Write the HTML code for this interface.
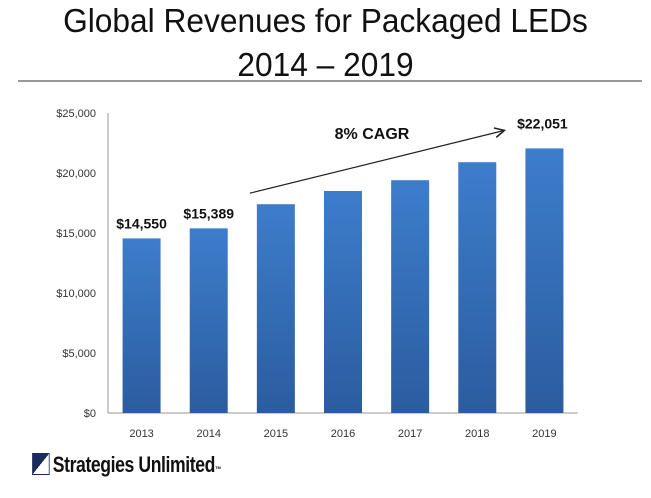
<!DOCTYPE html>
<html><head><meta charset="utf-8"><style>
body{margin:0;width:651px;height:498px;background:#fff;font-family:"Liberation Sans",sans-serif;overflow:hidden;position:relative}
.t{position:absolute;left:0;width:651px;text-align:center;font-size:33px;color:#111;transform:scaleX(0.96)}
</style></head><body>
<div class="t" style="top:2px">Global Revenues for Packaged LEDs</div>
<div class="t" style="top:46px">2014 – 2019</div>
<div style="position:absolute;left:18px;top:80px;width:624px;height:2px;background:#999"></div>
<svg id="c" width="651" height="498" style="position:absolute;left:0;top:0">
<defs><linearGradient id="g" x1="0" y1="0" x2="0" y2="1"><stop offset="0" stop-color="#3d7dcc"/><stop offset="1" stop-color="#2b5c9f"/></linearGradient>
<marker id="ah" markerWidth="10" markerHeight="10" refX="9" refY="5" orient="auto"><path d="M1,1 L9,5 L1,9" fill="none" stroke="#222" stroke-width="1.3"/></marker></defs>
</svg>
<div style="position:absolute;left:32px;top:452px;font-size:22px;font-weight:bold;color:#111;transform:scaleX(0.8);transform-origin:left;letter-spacing:-0.5px"><span style="display:inline-block;width:20px;height:20px;background:linear-gradient(135deg,#1a2c5c 50%,#fff 50%);border:1px solid #1a2c5c;vertical-align:-3px;margin-right:4px"></span>Strategies Unlimited<span style="font-size:8px">™</span></div>
<script>
const categories=["2013","2014","2015","2016","2017","2018","2019"];
const values=[14550,15389,17400,18500,19400,20900,22051];
const labels=["$14,550","$15,389","","","","","$22,051"];
const ticks=[0,5000,10000,15000,20000,25000];
const tickLabels=["$0","$5,000","$10,000","$15,000","$20,000","$25,000"];
const svg=document.getElementById('c');const NS="http://www.w3.org/2000/svg";
const y0=413,y1=113,vmax=25000,x0=108,x1=578;
const y=v=>y0-(v/vmax)*(y0-y1);
const x=i=>x0+(x1-x0)*(i+0.5)/categories.length;
function mk(t,a,txt){const e=document.createElementNS(NS,t);for(const k in a)e.setAttribute(k,a[k]);if(txt!==undefined)e.textContent=txt;svg.appendChild(e);return e;}
let e=mk('line',{x1:x0,y1:y1,x2:x0,y2:y0,stroke:'#999'});

e=mk('line',{x1:x0,y1:y0,x2:x1,y2:y0,stroke:'#999'});

ticks.forEach((t,i)=>{const el=mk('text',{x:96,y:y(t)+4,'text-anchor':'end','font-size':11,fill:'#333'},tickLabels[i]);
});
categories.forEach((c,i)=>{
const b=mk('rect',{x:x(i)-19,y:y(values[i]),width:38,height:y0-y(values[i]),fill:'url(#g)'});

const l=mk('text',{x:x(i),y:437,'text-anchor':'middle','font-size':11,fill:'#333'},c);

if(labels[i]){const v=mk('text',{x:x(i)+(i==6?-2:0),y:y(values[i])-(i==6?20:10),'text-anchor':'middle','font-size':14,'font-weight':'bold',fill:'#111'},labels[i]);
}
});
e=mk('line',{x1:x(2)-26,y1:y(17400)-11,x2:x(6)-40,y2:y(22051)-18,stroke:'#222','stroke-width':1.2,'marker-end':'url(#ah)'});

e=mk('text',{x:372,y:139,'text-anchor':'middle','font-size':16,'font-weight':'bold',fill:'#111'},'8% CAGR');

</script>
</body></html>
